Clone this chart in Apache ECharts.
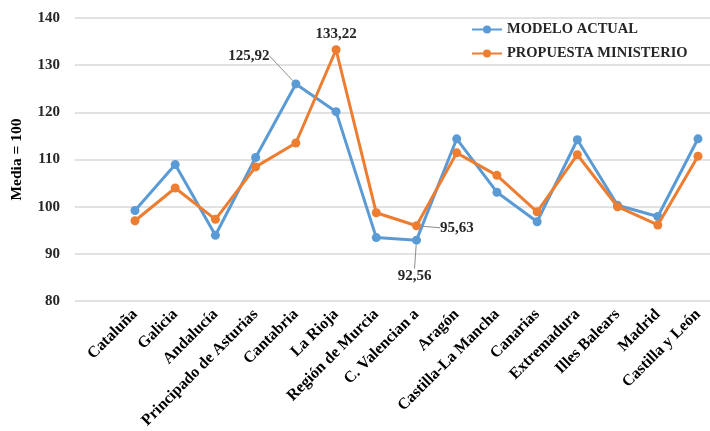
<!DOCTYPE html>
<html>
<head>
<meta charset="utf-8">
<script src="https://cdn.jsdelivr.net/npm/echarts@6/dist/echarts.min.js"></script>
<style>
  html, body { margin: 0; padding: 0; background: #fff; }
  #chart { width: 710px; height: 431px; }
</style>
</head>
<body>
<div id="chart"></div>
<script>
// Índice por comunidad autónoma (media = 100)
const categorias = ['Cataluña', 'Galicia', 'Andalucía', 'Principado de Asturias', 'Cantabria',
  'La Rioja', 'Región de Murcia', 'C. Valencian a', 'Aragón', 'Castilla-La Mancha', 'Canarias',
  'Extremadura', 'Illes Balears', 'Madrid', 'Castilla y León'];
const modeloActual = [98.9, 108.7, 93.6, 110.2, 125.92, 120.0, 93.1, 92.56, 114.2, 102.8, 96.5, 114.0, 100.0, 97.6, 114.2];
const propuestaMinisterio = [96.7, 103.7, 97.0, 108.2, 113.3, 133.22, 98.4, 95.63, 111.2, 106.4, 98.6, 110.8, 99.7, 95.8, 110.5];
const yTicks = [80, 90, 100, 110, 120, 130, 140];

const AZUL = '#5B9BD5';
const NARANJA = '#ED7D31';
const FUENTE = '"Liberation Serif", "Times New Roman", serif';
const TEXTO = '#262626';

const fmt = v => v.toFixed(2).replace('.', ',');

// Etiquetas de valor sólo en los puntos destacados
const etiquetas = {
  actual: {
    4: { position: 'top', dx: -47, dy: -11 },
    7: { position: 'bottom', dx: -2, dy: 19 }
  },
  propuesta: {
    5: { position: 'top', dx: 0, dy: 1, noLine: true },
    7: { position: 'right', dx: 14, dy: 2 }
  }
};

function construirDatos(valores, marcas) {
  return valores.map((v, i) => {
    const m = marcas[i];
    if (!m) return v;
    return {
      value: v,
      label: {
        show: true,
        position: m.position,
        formatter: p => fmt(p.value)
      },
      labelLine: { show: !m.noLine }
    };
  });
}

function layoutDe(marcas) {
  return params => {
    const m = marcas[params.dataIndex];
    if (!m) return {};
    return { dx: m.dx, dy: m.dy };
  };
}

const labelComun = {
  fontFamily: FUENTE,
  fontWeight: 'bold',
  fontSize: 15,
  color: TEXTO
};

const chart = echarts.init(document.getElementById('chart'));
chart.setOption({
  animation: false,
  backgroundColor: '#fff',
  grid: [
    // rejilla horizontal que arranca junto a las etiquetas del eje Y
    { left: 75, right: 0, top: 18, bottom: 130 },
    // área de las series: los puntos van de borde a borde
    { left: 135, right: 12, top: 18, bottom: 130 }
  ],
  legend: {
    orient: 'vertical',
    left: 471,
    top: 22,
    padding: 0,
    itemWidth: 30,
    itemHeight: 10,
    itemGap: 9,
    textStyle: { fontFamily: FUENTE, fontWeight: 'bold', fontSize: 14.5, color: TEXTO },
    data: ['MODELO ACTUAL', 'PROPUESTA MINISTERIO']
  },
  xAxis: [
    { gridIndex: 0, type: 'value', show: false, min: 0, max: 1 },
    {
      gridIndex: 1,
      type: 'category',
      data: categorias,
      boundaryGap: false,
      axisLine: { show: false },
      axisTick: { show: false },
      axisLabel: {
        rotate: 45,
        interval: 0,
        margin: 13,
        fontFamily: FUENTE,
        fontWeight: 'bold',
        fontSize: 16,
        color: '#000'
      }
    }
  ],
  yAxis: [
    {
      gridIndex: 0,
      type: 'value',
      min: yTicks[0],
      max: yTicks[yTicks.length - 1],
      interval: 10,
      name: 'Media = 100',
      nameLocation: 'middle',
      nameGap: 50,
      nameTextStyle: { fontFamily: FUENTE, fontWeight: 'bold', fontSize: 15.5, color: '#000' },
      axisLine: { show: false },
      axisTick: { show: false },
      axisLabel: {
        margin: 15,
        fontFamily: FUENTE,
        fontWeight: 'bold',
        fontSize: 15,
        color: TEXTO
      },
      splitLine: { lineStyle: { color: '#d9d9d9', width: 1.5 } }
    },
    {
      gridIndex: 1,
      type: 'value',
      min: yTicks[0],
      max: yTicks[yTicks.length - 1],
      interval: 10,
      show: false,
      splitLine: { show: false }
    }
  ],
  series: [
    {
      name: 'MODELO ACTUAL',
      type: 'line',
      xAxisIndex: 1,
      yAxisIndex: 1,
      data: construirDatos(modeloActual, etiquetas.actual),
      symbol: 'circle',
      symbolSize: 9,
      itemStyle: { color: AZUL },
      lineStyle: { color: AZUL, width: 3 },
      label: labelComun,
      labelLine: { lineStyle: { color: '#8c8c8c', width: 1 } },
      labelLayout: layoutDe(etiquetas.actual),
      z: 3
    },
    {
      name: 'PROPUESTA MINISTERIO',
      type: 'line',
      xAxisIndex: 1,
      yAxisIndex: 1,
      data: construirDatos(propuestaMinisterio, etiquetas.propuesta),
      symbol: 'circle',
      symbolSize: 9,
      itemStyle: { color: NARANJA },
      lineStyle: { color: NARANJA, width: 3 },
      label: labelComun,
      labelLine: { lineStyle: { color: '#8c8c8c', width: 1 } },
      labelLayout: layoutDe(etiquetas.propuesta),
      z: 4
    }
  ]
});
</script>
</body>
</html>
